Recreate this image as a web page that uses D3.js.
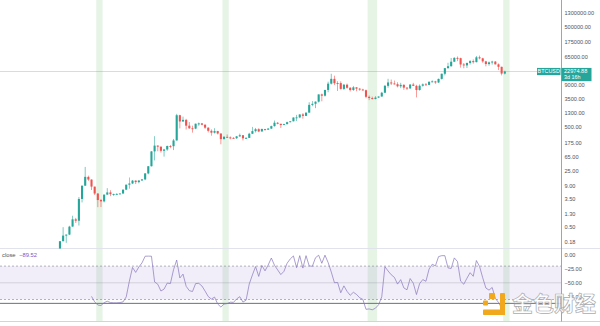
<!DOCTYPE html>
<html><head><meta charset="utf-8">
<script src="https://cdn.jsdelivr.net/npm/d3@7"></script>
<style>html,body{margin:0;padding:0;background:#fff;overflow:hidden}svg{display:block}</style>
</head><body><svg id="c" width="600" height="326"></svg>
<script>
// ---- DATA (BTCUSD monthly) ----
const startMonth = "2010-07";
const opens = [0.05,0.07,0.06,0.06,0.19,0.28,0.30,0.52,0.86,0.78,3.5,8.74,16.1,13.35,8.2,5.1,3.25,2.97,
 4.72,5.5,4.87,4.9,4.95,5.1,6.65,9.35,10.2,12.4,11.2,12.5,
 13.5,20.4,33.4,93,139,129,97,106,135,133,198,1129,
 732,818,549,458,447,628,641,586,478,386,338,378,
 320,217,254,244,236,230,263,284,230,236,314,377,
 430,368,437,416,448,531,673,624,575,609,698,742,
 963,970,1190,1080,1348,2300,2480,2875,4735,4340,6450,9947,
 13860,10221,10326,6926,9240,7494,6390,7730,7030,6630,6320,4020,
 3690,3440,3810,4100,5320,8560,10810,10085,9590,8290,9150,7560,
 7190,9350,8540,6410,8630,9450,9140,11350,11650,10780,13800,19700,
 28990,33110,45140,58760,57720,37300,35040,41460,47130,43820,61300,57000,
 46200,38480,43180,45530,37640,31800,19930];
const highs = [0.10,0.07,0.07,0.19,0.50,0.30,0.55,1.10,0.95,4.0,8.8,31.9,17.5,13.5,8.2,5.2,3.5,4.75,
 7.38,6.4,5.05,5.2,5.2,6.7,9.5,15.4,12.9,12.7,12.7,13.9,
 20.8,34,95,266,140,130,111,139,145,220,1240,1165,
 1024,876,705,548,632,680,660,600,490,425,460,385,
 320,267,300,262,248,268,317,284,248,335,503,469,
 460,448,438,469,550,780,704,624,628,720,755,974,
 1155,1200,1300,1360,2760,3000,2920,4750,5000,6470,11400,19666,
 17250,11790,11700,9760,9990,7780,8500,7760,7410,7000,6600,4400,
 4070,4200,4140,5640,9090,13880,13200,12330,10950,10540,9530,7750,
 9580,10500,9190,9460,10080,10400,11450,12470,12080,14100,19900,29300,
 41950,58350,61800,64900,59600,41300,42300,50500,52900,67000,69000,59100,
 48000,45800,48200,47450,40000,31950,24300];
const lows = [0.05,0.06,0.06,0.06,0.19,0.17,0.29,0.52,0.67,0.56,2.75,8.74,12.1,6.5,4.6,1.99,2.0,2.77,
 4.66,4.25,4.35,4.8,4.95,5.05,6.45,7.1,9.8,9.8,10.3,12.4,
 12.8,19.2,33,50,94,86,65,97,116,102,197,455,
 730,420,440,340,430,545,565,440,345,275,320,300,
 152,212,235,214,226,220,252,198,225,236,310,344,
 351,365,388,412,435,515,603,470,570,603,688,740,
 755,920,890,1060,1345,2100,1840,2710,2950,4100,5500,9400,
 9000,6000,6600,6430,7030,5780,6070,5880,6100,6200,3650,3200,
 3350,3380,3680,4040,5320,7500,9050,9350,7700,7300,6520,6420,
 6850,8450,3850,6150,8100,8830,8970,10900,9820,10400,13200,17600,
 28130,32300,45000,47050,30000,28800,29300,37300,39600,43300,53300,42000,
 32900,34300,37150,37600,25400,17600,18800];
const closes = [0.07,0.06,0.06,0.19,0.28,0.30,0.52,0.86,0.78,3.5,8.74,16.1,13.35,8.2,5.1,3.25,2.97,4.72,
 5.5,4.87,4.9,4.95,5.1,6.65,9.35,10.2,12.4,11.2,12.5,13.5,
 20.4,33.4,93,139,129,97,106,135,133,198,1129,732,
 818,549,458,447,628,641,586,478,386,338,378,320,
 217,254,244,236,230,263,284,230,236,314,377,430,
 368,437,416,448,531,673,624,575,609,698,742,963,
 970,1190,1080,1348,2300,2480,2875,4735,4340,6450,9947,13860,
 10221,10326,6926,9240,7494,6390,7730,7030,6630,6320,4020,3690,
 3440,3810,4100,5320,8560,10810,10085,9590,8290,9150,7560,7190,
 9350,8540,6410,8630,9450,9140,11350,11650,10780,13800,19700,28990,
 33110,45140,58760,57720,37300,35040,41460,47130,43820,61300,57000,46200,
 38480,43180,45530,37640,31800,19930,22974.88];
// Williams %R ("close") values, first value at month index 13
const wrStartIndex = 13;
const williamsR = [-74.4,-84.2,-90.0,-90.9,-85.7,-83.2,-85.5,-86.0,-86.0,-85.5,-84.4,-75.4,-47.1,-22.4,-31.3,-21.6,-14.2,
 -2.2,-2.0,-2.2,-48.5,-52.5,-64.8,-61.3,-50.5,-51.4,-26.5,-9.0,-41.3,
 -34.4,-56.3,-64.1,-65.7,-51.4,-51.0,-55.7,-64.9,-74.7,-79.3,-75.7,-88.2,
 -93.6,-88.3,-87.3,-84.8,-85.2,-79.0,-75.0,-84.6,-81.3,-52.1,-35.9,-20.8,
 -38.5,-18.8,-28.5,-18.0,-5.4,-18.4,-26.8,-35.2,-29.4,-14.8,-7.0,-1.7,
 -22.8,-1.2,-23.5,-1.2,-19.6,-20.3,-4.9,-0.4,-14.9,-0.3,-13.6,-30.7,
 -49.9,-49.4,-67.9,-55.5,-65.4,-72.5,-67.0,-70.9,-76.9,-79.8,-97.7,-97.0,
 -98.5,-95.7,-89.5,-75.1,-21.1,-28.7,-35.5,-40.2,-52.3,-44.3,-59.2,-62.6,
 -42.4,-50.7,-71.1,-51.5,-44.2,-47.3,-25.2,-16.6,-19.6,-2.9,-1.2,-1.2,
 -23.2,-24.2,-5.2,-11.8,-47.0,-52.6,-41.8,-31.8,-38.3,-10.0,-20.5,-40.9,
 -59.4,-63.2,-58.4,-78.0,-85.3,-95.5,-89.5];
const lastValueLabel = "−89.52";
const symbol = "BTCUSD";
const priceLabel = "22974.88";
const countdown = "3d 16h";
const priceTicks = [0.18,0.5,1.3,3.5,9,25,65,175,500,1300,3500,9000,25000,65000,175000,500000,1300000];
const wrTicks = [0,-25,-50,-75];
const wrLevels = [-20,-50,-80];
const userLineLevel = -87;
const highlightRanges = [["2011-10","2011-11"],["2015-02","2015-03"],["2018-12","2019-02"],["2022-07","2022-08"]];
const watermark = "金色财经";

// ---- LAYOUT ----
const W = 600, H = 326, axisX = 561, mainBottom = 248.5, paneBottom = 321.5;
const svg = d3.select("#c");
const n = closes.length;
const x = d3.scaleLinear().domain([0, n - 1]).range([50.5, 504.8]);
const step = x(1) - x(0);
const y = d3.scaleLog().domain([0.18, 1300000]).range([242, 13]);
const yr = d3.scaleLinear().domain([0, -100]).range([255, 310.6]);
const sm = startMonth.split("-").map(Number);
const monthIndex = s => { const [a, b] = s.split("-").map(Number); return (a - sm[0]) * 12 + (b - sm[1]); };

const defs = svg.append("defs");
defs.append("clipPath").attr("id", "cm").append("rect").attr("x", 0).attr("y", 0).attr("width", axisX).attr("height", mainBottom);
defs.append("clipPath").attr("id", "cl").append("rect").attr("x", 0).attr("y", mainBottom).attr("width", axisX).attr("height", paneBottom - mainBottom);

// highlight bands
svg.append("g").selectAll("rect").data(highlightRanges).join("rect")
  .attr("x", d => x(monthIndex(d[0])) - step / 2)
  .attr("width", d => x(monthIndex(d[1])) - x(monthIndex(d[0])) + step)
  .attr("y", 0).attr("height", paneBottom)
  .attr("fill", "#4caf50").attr("opacity", 0.14);

// lower pane band + levels
const lower = svg.append("g").attr("clip-path", "url(#cl)");
lower.append("rect").attr("x", 0).attr("width", axisX)
  .attr("y", yr(-20)).attr("height", yr(-80) - yr(-20))
  .attr("fill", "#7e57c2").attr("opacity", 0.1);
lower.selectAll("line.lv").data(wrLevels).join("line").attr("class", "lv")
  .attr("x1", 0).attr("x2", axisX).attr("y1", d => yr(d)).attr("y2", d => yr(d))
  .attr("stroke", "#787b86").attr("stroke-width", 0.7)
  .attr("stroke-dasharray", d => d === -50 ? null : "2,2")
  .attr("opacity", d => d === -50 ? 0.35 : 0.8);
lower.append("line").attr("x1", 0).attr("x2", axisX).attr("y1", yr(userLineLevel)).attr("y2", yr(userLineLevel))
  .attr("stroke", "#5d606b").attr("stroke-width", 0.9);
lower.append("path")
  .datum(williamsR)
  .attr("d", d3.line().x((d, i) => x(i + wrStartIndex)).y(d => yr(d)))
  .attr("fill", "none").attr("stroke", "#8675bb").attr("stroke-width", 0.7);

// separators
svg.append("line").attr("x1", 0).attr("x2", W).attr("y1", mainBottom).attr("y2", mainBottom).attr("stroke", "#e0e3eb").attr("stroke-width", 1);
svg.append("line").attr("x1", 0).attr("x2", W).attr("y1", paneBottom).attr("y2", paneBottom).attr("stroke", "#d1d4dc").attr("stroke-width", 1);
svg.append("line").attr("x1", axisX + 0.5).attr("x2", axisX + 0.5).attr("y1", 0).attr("y2", paneBottom).attr("stroke", "#8a8d96").attr("stroke-width", 0.8);

// price line
const lastC = closes[n - 1];
svg.append("line").attr("x1", 0).attr("x2", 537).attr("y1", y(lastC)).attr("y2", y(lastC))
  .attr("stroke", "#26a69a").attr("stroke-width", 0.8).attr("opacity", 0.35);

// candles
const main = svg.append("g").attr("clip-path", "url(#cm)");
const idx = d3.range(n);
const col = i => closes[i] >= opens[i] ? "#26a69a" : "#ef5350";
main.selectAll("line.w").data(idx).join("line").attr("class", "w")
  .attr("x1", i => x(i)).attr("x2", i => x(i))
  .attr("y1", i => y(highs[i])).attr("y2", i => y(lows[i]))
  .attr("stroke", col).attr("stroke-width", 0.7).attr("opacity", 0.85);
main.selectAll("rect.b").data(idx).join("rect").attr("class", "b")
  .attr("x", i => x(i) - 1.05).attr("width", 2.1)
  .attr("y", i => y(Math.max(opens[i], closes[i])))
  .attr("height", i => Math.max(0.9, y(Math.min(opens[i], closes[i])) - y(Math.max(opens[i], closes[i]))))
  .attr("fill", col);

// axes
const font = "'Liberation Sans', Arial, sans-serif";
const ax = svg.append("g").attr("transform", `translate(${axisX + 1},0)`)
  .call(d3.axisRight(y).tickValues(priceTicks).tickFormat(d3.format(".2f")).tickSize(0).tickPadding(2.5));
const ax2 = svg.append("g").attr("transform", `translate(${axisX + 1},0)`)
  .call(d3.axisRight(yr).tickValues(wrTicks).tickFormat(d3.format(".2f")).tickSize(0).tickPadding(2.5));
[ax, ax2].forEach(a => {
  a.select(".domain").remove();
  a.selectAll("text").attr("font-family", font).attr("font-size", 5.6).attr("fill", "#50535e");
});

// symbol + price labels
const py = y(lastC);
svg.append("rect").attr("x", 537).attr("y", py - 3.6).attr("width", 23.5).attr("height", 7.2).attr("fill", "#26a69a");
svg.append("text").attr("x", 548.7).attr("y", py).attr("dy", "0.35em").attr("text-anchor", "middle")
  .attr("font-family", font).attr("font-size", 5.4).attr("fill", "#fff").text(symbol);
svg.append("rect").attr("x", axisX + 0.5).attr("y", py - 3.6).attr("width", 30).attr("height", 13.2).attr("fill", "#26a69a");
svg.append("text").attr("x", axisX + 3).attr("y", py).attr("dy", "0.35em")
  .attr("font-family", font).attr("font-size", 5.6).attr("fill", "#fff").text(priceLabel);
svg.append("text").attr("x", axisX + 3).attr("y", py + 6).attr("dy", "0.35em")
  .attr("font-family", font).attr("font-size", 5.4).attr("fill", "#fff").text(countdown);

// legend of lower pane
const lg = svg.append("text").attr("x", 2).attr("y", 255).attr("dy", "0.35em")
  .attr("font-family", font).attr("font-size", 5.8);
lg.append("tspan").attr("fill", "#50535e").text("close ");
lg.append("tspan").attr("fill", "#7e57c2").attr("dx", 2).text(lastValueLabel);

// watermark
const wm = svg.append("g");
const logo = [[489, 293, 6, 6], [500, 293, 5, 22], [483, 309.5, 22, 5.5], [483, 300.5, 5, 5]];
wm.selectAll("rect").data(logo).join("rect")
  .attr("x", d => d[0]).attr("y", d => d[1]).attr("width", d => d[2]).attr("height", d => d[3])
  .attr("rx", 0.8).attr("fill", "#f2a81d");
wm.append("text").attr("x", 512).attr("y", 310.5)
  .attr("font-family", "'Noto Sans CJK SC', sans-serif").attr("font-size", 21).attr("font-weight", 700)
  .attr("fill", "rgba(255,255,255,0.88)").attr("stroke", "#a9abb0").attr("stroke-width", 0.7)
  .text(watermark);
</script>
</body></html>
